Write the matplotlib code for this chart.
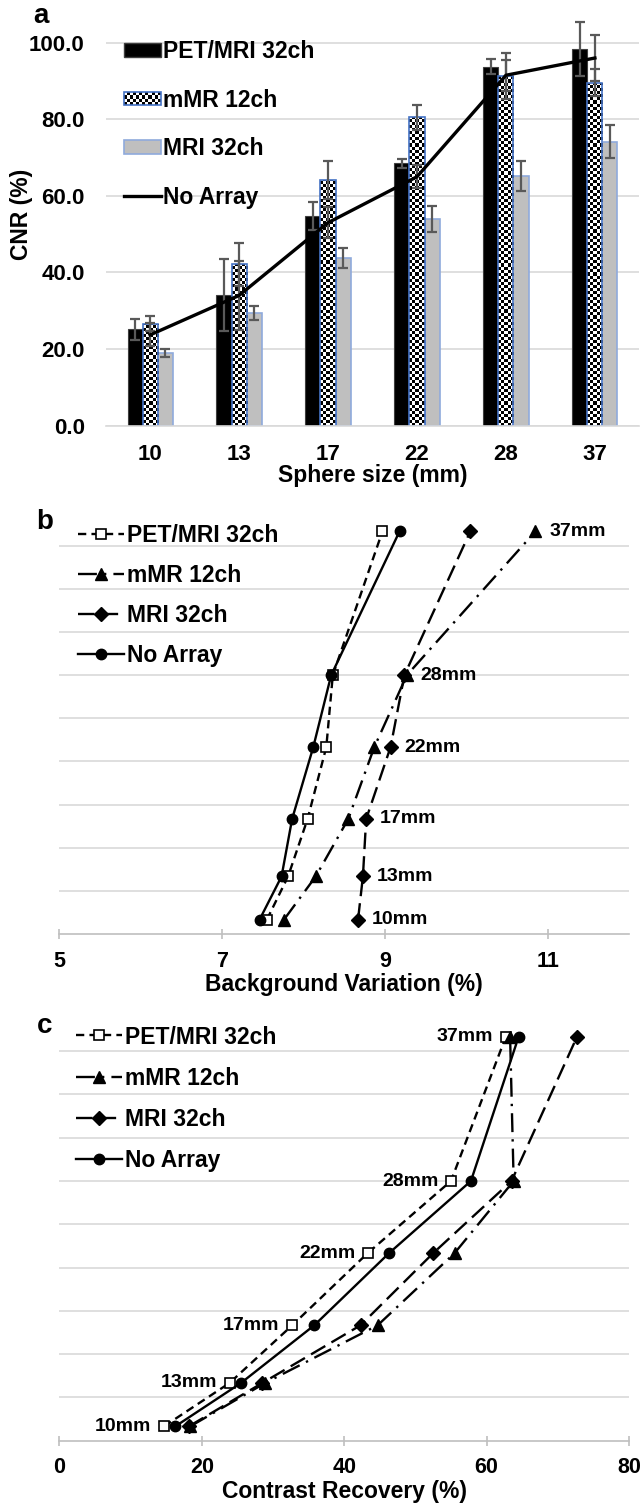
import matplotlib

matplotlib.use("Agg")
import matplotlib.pyplot as plt
import numpy as np
from matplotlib.colors import ListedColormap
from matplotlib.legend_handler import HandlerBase
from matplotlib.lines import Line2D
from matplotlib.patches import Patch, Rectangle

plt.rcParams["font.family"] = ["Liberation Sans", "DejaVu Sans"]
plt.rcParams["font.weight"] = "bold"
plt.rcParams["axes.labelweight"] = "bold"

W, H = 641, 1507

# panel a: CNR per sphere size
SPHERE_SIZES = ["10", "13", "17", "22", "28", "37"]
CNR_PET = [25.2, 34.1, 54.8, 68.5, 93.7, 98.3]
CNR_PET_ERR = [2.7, 9.5, 3.7, 1.1, 2.0, 7.0]
CNR_MMR = [26.6, 42.1, 64.2, 80.5, 91.3, 89.6]
CNR_MMR_ERR = [2.0, 5.5, 5.0, 3.2, 6.0, 3.5]
CNR_MRI = [18.9, 29.5, 43.9, 54.0, 65.3, 74.2]
CNR_MRI_ERR = [1.0, 1.8, 2.6, 3.3, 3.9, 4.3]
CNR_NOARR = [23.7, 34.0, 53.0, 65.0, 91.5, 96.0]
CNR_NOARR_ERR = [3.0, 9.0, 4.0, 3.0, 4.0, 6.0]

# panels b and c: one row per sphere
SPHERE_LABELS = ["10mm", "13mm", "17mm", "22mm", "28mm", "37mm"]
ROW_POS = [10, 13, 17, 22, 27, 37]
BG_PET = [7.55, 7.81, 8.05, 8.28, 8.36, 8.97]
BG_MMR = [7.76, 8.15, 8.55, 8.87, 9.27, 10.85]
BG_MRI = [8.67, 8.73, 8.77, 9.07, 9.24, 10.05]
BG_NOARR = [7.46, 7.73, 7.86, 8.12, 8.34, 9.18]
CR_PET = [14.7, 23.9, 32.7, 43.3, 55.0, 62.7]
CR_MMR = [18.4, 28.9, 44.7, 55.5, 63.8, 63.3]
CR_MRI = [18.2, 28.5, 42.3, 52.5, 63.5, 72.7]
CR_NOARR = [16.3, 25.5, 35.8, 46.3, 57.8, 64.5]

SERIES = ["PET/MRI 32ch", "mMR 12ch", "MRI 32ch", "No Array"]

GRID = "#d9d9d9"
ERR = "#595959"
BLUE = "#4472c4"
LIGHT_BLUE = "#8faadc"

LINE_STYLES = {
    "PET/MRI 32ch": dict(ls=(0, (3.5, 2.2)), marker="s", mfc="white", mec="black", ms=7.5, mew=1.2),
    "mMR 12ch": dict(ls=(0, (8, 3, 1, 3)), marker="^", mfc="black", mec="black", ms=8),
    "MRI 32ch": dict(ls=(0, (7, 3)), marker="D", mfc="black", mec="black", ms=7),
    "No Array": dict(ls="-", marker="o", mfc="black", mec="black", ms=7.5),
}


def add_axes_px(fig, left, top, right, bottom):
    return fig.add_axes([left / W, 1 - bottom / H, (right - left) / W, (bottom - top) / H])


class CheckerHandler(HandlerBase):
    def create_artists(self, legend, orig_handle, xdescent, ydescent, width, height, fontsize, trans):
        nx, ny = 12, 4
        cw, ch = width / nx, height / ny
        artists = []
        for i in range(nx):
            for j in range(ny):
                if (i + j) % 2 == 0:
                    artists.append(Rectangle((-xdescent + i * cw, -ydescent + j * ch), cw, ch,
                                             facecolor="black", lw=0, transform=trans))
        artists.append(Rectangle((-xdescent, -ydescent), width, height, fill=False,
                                 edgecolor=BLUE, lw=1.2, transform=trans))
        return artists


fig = plt.figure(figsize=(W / 100, H / 100), dpi=100)

# ---- a: bar chart ----
ax = add_axes_px(fig, 105.6, 19.7, 639.4, 425.7)
x = np.arange(len(SPHERE_SIZES))
bw = 0.169
ax.bar(x - bw, CNR_PET, bw, color="black", edgecolor="#3f3f3f", lw=0.8, zorder=2)
mmr_bars = ax.bar(x, CNR_MMR, bw, color="white", edgecolor="none", zorder=2)
ax.bar(x + bw, CNR_MRI, bw, color="#bfbfbf", edgecolor=LIGHT_BLUE, lw=1.2, zorder=2)

cell_y = 0.8
checker_cmap = ListedColormap(["white", "black"])
for patch in mmr_bars:
    x0 = patch.get_x()
    top = patch.get_height()
    ny = int(np.ceil(top / cell_y)) + 1
    board = np.add.outer(np.arange(ny), np.arange(5)) % 2
    im = ax.imshow(board, cmap=checker_cmap, extent=(x0, x0 + bw, 0, ny * cell_y), origin="lower",
                   interpolation="nearest", aspect="auto", zorder=2.1)
    im.set_clip_path(patch)
ax.bar(x, CNR_MMR, bw, fill=False, edgecolor=BLUE, lw=1.2, zorder=2.2)

err_kw = dict(fmt="none", ecolor=ERR, elinewidth=1.6, capsize=3.5, capthick=1.6, zorder=3)
ax.errorbar(x - bw, CNR_PET, yerr=CNR_PET_ERR, **err_kw)
ax.errorbar(x, CNR_MMR, yerr=CNR_MMR_ERR, **err_kw)
ax.errorbar(x + bw, CNR_MRI, yerr=CNR_MRI_ERR, **err_kw)
ax.errorbar(x, CNR_NOARR, yerr=CNR_NOARR_ERR, **err_kw)
ax.plot(x, CNR_NOARR, color="black", lw=2.4, zorder=4)

ax.set_xlim(-0.5, len(SPHERE_SIZES) - 0.5)
ax.set_ylim(0, 106)
ax.set_yticks(np.arange(0, 101, 20))
ax.set_yticklabels([f"{v:.1f}" for v in np.arange(0, 101, 20)])
ax.set_xticks(x)
ax.set_xticklabels(SPHERE_SIZES)
ax.tick_params(axis="both", length=0, labelsize=16)
ax.tick_params(axis="y", pad=15)
ax.tick_params(axis="x", pad=13)
ax.yaxis.grid(True, color=GRID, lw=1.2)
ax.set_axisbelow(True)
for side in ["left", "right", "top"]:
    ax.spines[side].set_visible(False)
ax.spines["bottom"].set_color(GRID)
ax.spines["bottom"].set_linewidth(1.2)
ax.set_xlabel("Sphere size (mm)", fontsize=16.5)
ax.xaxis.set_label_coords(0.5, -0.095)
ax.set_ylabel("CNR (%)", fontsize=16.5)
ax.yaxis.set_label_coords(-0.136, 0.52)

handles_a = [
    Patch(facecolor="black", edgecolor="#3f3f3f"),
    Patch(facecolor="white", edgecolor=BLUE),
    Patch(facecolor="#bfbfbf", edgecolor=LIGHT_BLUE, lw=1.2),
    Line2D([], [], color="black", lw=2.4),
]
ax.legend(handles_a, SERIES, loc="upper left", bbox_to_anchor=(124 / W, 1 - 40 / H),
          bbox_transform=fig.transFigure, frameon=False, fontsize=16.5, borderpad=0,
          borderaxespad=0, labelspacing=1.12, handlelength=1.6, handleheight=0.55,
          handletextpad=0.1, handler_map={handles_a[1]: CheckerHandler()})
fig.text(41 / W, 1 - 16 / H, "a", fontsize=20, ha="center", va="center")


# ---- b and c: line charts ----
def line_panel(ax, series_values, xlim, xticks, xlabel, label_side, legend_top, legend_left, spacing):
    for name, values in zip(SERIES, series_values):
        ax.plot(values, ROW_POS, color="black", lw=1.7, label=name, zorder=3, **LINE_STYLES[name])
    values = np.array(series_values)
    for row, text in enumerate(SPHERE_LABELS):
        if label_side == "right":
            ax.annotate(text, (values[:, row].max(), ROW_POS[row]), xytext=(10, 0),
                        textcoords="offset points", ha="left", va="center", fontsize=14)
        else:
            ax.annotate(text, (values[:, row].min(), ROW_POS[row]), xytext=(-9, 0),
                        textcoords="offset points", ha="right", va="center", fontsize=14)
    ax.set_xlim(*xlim)
    ax.set_ylim(9, 38)
    ax.set_xticks(xticks)
    ax.set_yticks(np.arange(12, 37, 3))
    ax.yaxis.grid(True, color=GRID, lw=1.2)
    ax.set_axisbelow(True)
    ax.tick_params(axis="y", length=0, labelleft=False)
    ax.tick_params(axis="x", direction="inout", length=7, width=1.2, color="#bfbfbf",
                   labelsize=15.5, pad=8.5)
    for side in ["left", "right", "top"]:
        ax.spines[side].set_visible(False)
    ax.spines["bottom"].set_color("#bfbfbf")
    ax.spines["bottom"].set_linewidth(1.2)
    ax.set_xlabel(xlabel, fontsize=16.5)
    ax.xaxis.set_label_coords(0.5, -39.5 / (ax.bbox.height))
    ax.legend(loc="upper left", bbox_to_anchor=(legend_left / W, 1 - legend_top / H),
              bbox_transform=fig.transFigure, frameon=False, fontsize=16.5, borderpad=0,
              borderaxespad=0, labelspacing=spacing, handlelength=2.0, handletextpad=0.12,
              numpoints=1)


ax_b = add_axes_px(fig, 59.4, 517, 629, 934)
line_panel(ax_b, [BG_PET, BG_MMR, BG_MRI, BG_NOARR], (5, 12), [5, 7, 9, 11],
           "Background Variation (%)", "right", 524, 78, 0.74)
fig.text(45 / W, 1 - 522 / H, "b", fontsize=20, ha="center", va="center")

ax_c = add_axes_px(fig, 59.4, 1022.3, 629, 1440.7)
line_panel(ax_c, [CR_PET, CR_MMR, CR_MRI, CR_NOARR], (0, 80), [0, 20, 40, 60, 80],
           "Contrast Recovery (%)", "left", 1025.5, 76, 0.79)
fig.text(45 / W, 1 - 1026 / H, "c", fontsize=20, ha="center", va="center")

fig.savefig("out.png", dpi=100)
